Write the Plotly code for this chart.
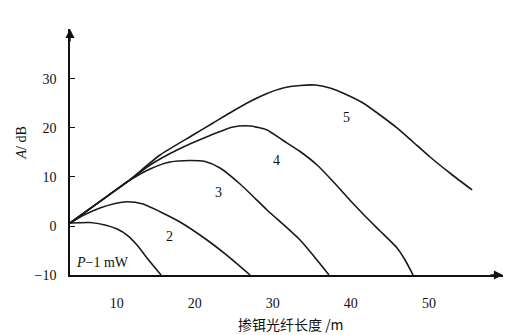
import plotly.graph_objects as go

# Curve data (x: fibre length in m, y: gain A in dB)
c1_x = [4, 6.56, 8.49, 10.03, 11.31, 12.59, 13.87, 15.67]
c1_y = [0.61, 0.71, 0.20, -0.61, -1.84, -3.88, -6.53, -10]

c2_x = [4, 5.92, 7.85, 9.77, 11.31, 13.36, 15.54, 18.1, 21.56, 24.51, 27.08]
c2_y = [0.61, 2.35, 3.67, 4.59, 4.96, 4.49, 2.92, 0.82, -2.86, -6.5, -10]

c3_x = [4, 7.85, 11.31, 14.26, 16.82, 19.38, 21.31, 23.23, 25.8, 29.26, 33.49, 37.2]
c3_y = [0.61, 5.02, 8.98, 11.63, 13.06, 13.37, 13.16, 11.84, 8.57, 3.27, -2.86, -10]

c4_x = [4, 7.85, 11.31, 14.26, 17.72, 21.95, 24.9, 27.08, 29.26, 31.31, 33.49, 35.67,
        37.72, 39.51, 41.56, 43.74, 45.92, 46.95, 47.97]
c4_y = [0.61, 5.02, 8.98, 12.45, 15.51, 18.47, 20.2, 20.41, 19.59, 17.45, 15.2, 12.45,
        9.08, 5.92, 2.45, -1.02, -4.49, -6.94, -10]

c5_x = [4, 7.85, 11.31, 15.54, 19.77, 22.33, 24.9, 27.08, 29.26, 31.31, 33.49, 35.41,
        37.33, 39.26, 41.56, 43.74, 45.92, 47.97, 50.15, 52.85, 55.54]
c5_y = [0.61, 5.02, 8.98, 14.49, 18.57, 21.02, 23.47, 25.41, 27.04, 28.16, 28.67, 28.78,
        28.16, 26.94, 25.10, 22.65, 20.0, 17.14, 14.08, 10.61, 7.35]

series = [(c1_x, c1_y), (c2_x, c2_y), (c3_x, c3_y), (c4_x, c4_y), (c5_x, c5_y)]

curve_labels = ["2", "3", "4", "5"]
label_x = [16.8, 23.0, 30.5, 39.5]
label_y = [-2.2, 6.9, 13.3, 22.2]

power_label = "<i>P</i>−1 mW"
power_x, power_y = 8.2, -7.35

x_ticks = [10, 20, 30, 40, 50]
y_ticks = [-10, 0, 10, 20, 30]

x_title = "掺铒光纤长度 /m"
y_title = "<i>A</i>/ dB"

fig = go.Figure()
for sx, sy in series:
    fig.add_trace(go.Scatter(x=sx, y=sy, mode="lines",
                             line=dict(color="#1a1a1a", width=1.6, shape="spline", smoothing=0.6),
                             showlegend=False, hoverinfo="skip"))

serif = "Liberation Serif, Times New Roman, serif"
ann = []
for t, x, y in zip(curve_labels, label_x, label_y):
    ann.append(dict(x=x, y=y, xref="x", yref="y", text=t, showarrow=False,
                    font=dict(family=serif, size=14, color="#111")))
ann.append(dict(x=power_x, y=power_y, xref="x", yref="y", text=power_label, showarrow=False,
                font=dict(family=serif, size=14, color="#111")))
# axis arrows
ann.append(dict(x=0, y=1, xref="paper", yref="paper", ax=0, ay=14, text="",
                showarrow=True, arrowhead=2, arrowsize=1.3, arrowwidth=1.4, arrowcolor="#111"))
ann.append(dict(x=1, y=0, xref="paper", yref="paper", ax=-14, ay=0, text="",
                showarrow=True, arrowhead=2, arrowsize=1.3, arrowwidth=1.4, arrowcolor="#111"))
# axis titles
ann.append(dict(x=-0.113, y=0.535, xref="paper", yref="paper", text=y_title, textangle=-90,
                xanchor="center", yanchor="middle",
                showarrow=False, font=dict(family=serif, size=14, color="#111")))
ann.append(dict(x=0.51, y=-0.2, xref="paper", yref="paper", text=x_title,
                xanchor="center", yanchor="middle",
                showarrow=False, font=dict(family="Noto Sans CJK SC", size=14, color="#111")))

fig.update_layout(
    width=512, height=335,
    margin=dict(l=70, r=9, t=29, b=60),
    paper_bgcolor="white", plot_bgcolor="white",
    annotations=ann,
    xaxis=dict(range=[4, 59.5], showgrid=False, zeroline=False, showline=True,
               linecolor="#111", linewidth=1.6, tickvals=x_ticks, ticks="",
               ticklabelstandoff=14,
               tickfont=dict(family=serif, size=14, color="#111")),
    yaxis=dict(range=[-10, 40.2], showgrid=False, zeroline=False, showline=True,
               linecolor="#111", linewidth=1.6, tickvals=y_ticks, ticks="inside",
               ticklen=5, tickcolor="#111", tickwidth=1.4, ticklabelstandoff=9,
               tickfont=dict(family=serif, size=14, color="#111")),
)

fig.write_html("out.html")
